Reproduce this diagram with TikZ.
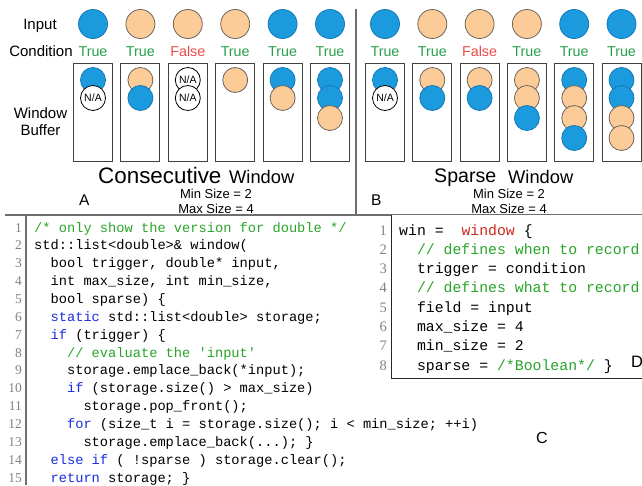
\documentclass[tikz,border=0pt]{standalone}
\usepackage{fontspec}
\setmainfont{Liberation Sans}
\setmonofont{Liberation Mono}
\newfontfamily\numfont{Liberation Serif}
\definecolor{cblue}{RGB}{27,155,222}
\definecolor{cbluedk}{RGB}{20,120,180}
\definecolor{cpeach}{RGB}{252,204,152}
\definecolor{cpeachdk}{RGB}{110,100,90}
\definecolor{ctrue}{RGB}{40,160,75}
\definecolor{cfalse}{RGB}{240,70,70}
\definecolor{ccom}{RGB}{40,165,40}
\definecolor{ckw}{RGB}{25,45,225}
\definecolor{cred}{RGB}{205,40,30}
\definecolor{cnum}{RGB}{130,130,130}
\definecolor{csep}{RGB}{110,110,110}
\newcommand\CMT[1]{\textcolor{ccom}{#1}}
\newcommand\KW[1]{\textcolor{ckw}{#1}}
\newcommand\RW[1]{\textcolor{cred}{#1}}
\newcommand\txtcb{}
\newcommand\txtcp{}
\newcommand\txtcn{N/A}
\tikzset{
  lbl/.style={font=\fontsize{15}{15}\selectfont, inner sep=0pt, anchor=base},
  cond/.style={font=\fontsize{14.3}{14.3}\selectfont, inner sep=0pt, anchor=base},
  incirc/.style={circle, minimum size=29pt, inner sep=0pt, line width=0.8pt},
  bufcirc/.style={circle, minimum size=25pt, inner sep=0pt, line width=0.8pt},
  cb/.style={fill=cblue, draw=cbluedk},
  cp/.style={fill=cpeach, draw=cpeachdk},
  cn/.style={fill=white, draw=black, font=\fontsize{10.5}{10.5}\selectfont},
  bufbox/.style={draw=black!75, line width=1pt, minimum width=39pt, minimum height=98pt, inner sep=0pt},
  small/.style={font=\fontsize{13}{13}\selectfont, inner sep=0pt, anchor=base},
  panel/.style={font=\fontsize{15.5}{15.5}\selectfont, inner sep=0pt, anchor=base west},
  codeL/.style={font=\ttfamily\fontsize{13.7}{13.7}\selectfont, inner sep=0pt, anchor=base west},
  codeD/.style={font=\ttfamily\fontsize{14.83}{14.83}\selectfont, inner sep=0pt, anchor=base west},
  numL/.style={font=\numfont\fontsize{13.5}{13.5}\selectfont, text=cnum, inner sep=0pt, anchor=base east},
  numD/.style={font=\numfont\fontsize{14.5}{14.5}\selectfont, text=cnum, inner sep=0pt, anchor=base east},
  sepline/.style={draw=csep, line width=1.4pt},
}
\begin{document}
\begin{tikzpicture}[x=1pt,y=-1pt]
\useasboundingbox (0,0) rectangle (642,485);
% row labels
\node[lbl] (tInput) at (40,29) {Input};
\node[lbl] (tCond) at (41,56) {Condition};
\node[lbl] (tWin) at (40.5,118) {Window};
\node[lbl] (tBuf) at (40.5,135) {Buffer};
% inputs and conditions
\foreach \t [count=\i] in {cb,cp,cp,cp,cb,cb} {
  \node[incirc,\t] (inA\i) at ({93+47.4*(\i-1)},24) {};
  \node[incirc,\t] (inB\i) at ({385+47.3*(\i-1)},24) {};
}
\foreach \c/\w [count=\i] in {ctrue/True,ctrue/True,cfalse/False,ctrue/True,ctrue/True,ctrue/True} {
  \node[cond,text=\c] (cdA\i) at ({93+47.4*(\i-1)},56) {\w};
  \node[cond,text=\c] (cdB\i) at ({385+47.3*(\i-1)},56) {\w};
}
% buffers A
\foreach \items [count=\i] in {{cb,cn},{cp,cb},{cn,cn},{cp},{cb,cp},{cb,cb,cp}} {
  \node[bufbox] (bxA\i) at ({93+47.4*(\i-1)},112) {};
  \foreach \t [count=\k] in \items {
    \node[bufcirc,\t] (cA\i-\k) at ({93+47.4*(\i-1)},{78+20*(\k-1)+2*(\k==1)}) {\csname txt\t\endcsname};
  }
}
% buffers B
\foreach \items [count=\i] in {{cb,cn},{cp,cb},{cp,cb},{cp,cp,cb},{cb,cp,cp,cb},{cb,cb,cp,cp}} {
  \node[bufbox] (bxB\i) at ({385+47.3*(\i-1)},112) {};
  \foreach \t [count=\k] in \items {
    \node[bufcirc,\t] (cB\i-\k) at ({385+47.3*(\i-1)},{78+20*(\k-1)+2*(\k==1)}) {\csname txt\t\endcsname};
  }
}
% titles
\node[inner sep=0pt, anchor=base west, font=\fontsize{22.4}{22.4}\selectfont] (tCons) at (98,183) {Consecutive};
\node[inner sep=0pt, anchor=base west, font=\fontsize{18.3}{18.3}\selectfont] (tConsW) at (229,183) {Window};
\node[inner sep=0pt, anchor=base west, font=\fontsize{19.6}{19.6}\selectfont] (tSpar) at (434,182) {Sparse};
\node[inner sep=0pt, anchor=base west, font=\fontsize{18.3}{18.3}\selectfont] (tSparW) at (508,183) {Window};
\node[small] (minA) at (216,198) {Min Size = 2};
\node[small] (maxA) at (216,213) {Max Size = 4};
\node[small] (minB) at (509,198) {Min Size = 2};
\node[small] (maxB) at (509,213) {Max Size = 4};
\node[panel] (pA) at (79,205) {A};
\node[panel] (pB) at (371,205) {B};
\node[panel, font=\fontsize{16}{16}\selectfont] (pC) at (536,443) {C};
% separators
\coordinate (s1) at (5,215);
\coordinate (s2) at (642,215);
\coordinate (v1) at (356,9);
\coordinate (v2) at (356,215);
\coordinate (g1) at (26,215);
\coordinate (g2) at (26,485);
\draw[sepline] (s1) -- (s2);
\draw[sepline] (v1) -- (v2);
\draw[draw=csep, line width=1.2pt] (g1) -- (g2);
% left code
\foreach \k in {1,...,15} {
  \node[numL] (nL\k) at (22,{232+17.86*(\k-1)}) {\k};
}
\node[codeL] (L1) at (34,232) {\CMT{/* only show the version for double */}};
\node[codeL] (L2) at (34,249.86) {std::list<double>\& window(};
\node[codeL] (L3) at (50.44,267.72) {bool trigger, double* input,};
\node[codeL] (L4) at (50.44,285.58) {int max\_size, int min\_size,};
\node[codeL] (L5) at (50.44,303.44) {bool sparse) \{};
\node[codeL] (L6) at (50.44,321.3) {\KW{static} std::list<double> storage;};
\node[codeL] (L7) at (50.44,339.16) {\KW{if} (trigger) \{};
\node[codeL] (L8) at (66.88,357.02) {\CMT{// evaluate the 'input'}};
\node[codeL] (L9) at (66.88,374.88) {storage.emplace\_back(*input);};
\node[codeL] (L10) at (66.88,392.74) {\KW{if} (storage.size() > max\_size)};
\node[codeL] (L11) at (83.32,410.6) {storage.pop\_front();};
\node[codeL] (L12) at (66.88,428.46) {\KW{for} (size\_t i = storage.size(); i < min\_size; ++i)};
\node[codeL] (L13) at (83.32,446.32) {storage.emplace\_back(...); \}};
\node[codeL] (L14) at (50.44,464.18) {\KW{else if} ( !sparse ) storage.clear();};
\node[codeL] (L15) at (50.44,482.04) {\KW{return} storage; \}};
% D box
\coordinate (d1) at (391,215);
\coordinate (d2) at (391,378);
\coordinate (d3) at (642,378);
\fill[white] (d1) rectangle (d3);
\draw[draw=black!85, line width=1pt] (d1) -- (d2) -- (d3);
\foreach \k in {1,...,8} {
  \node[numD] (nD\k) at (387,{235+19.3*(\k-1)}) {\k};
}
\node[codeD] (D1) at (399,235) {win = ~\RW{window} \{};
\node[codeD] (D2) at (416.8,254.3) {\CMT{// defines when to record}};
\node[codeD] (D3) at (416.8,273.6) {trigger = condition};
\node[codeD] (D4) at (416.8,292.9) {\CMT{// defines what to record}};
\node[codeD] (D5) at (416.8,312.2) {field = input};
\node[codeD] (D6) at (416.8,331.5) {max\_size = 4};
\node[codeD] (D7) at (416.8,350.8) {min\_size = 2};
\node[codeD] (D8) at (416.8,370.1) {sparse = \CMT{/*Boolean*/} \}};
\node[panel, font=\fontsize{16.5}{16.5}\selectfont] (pD) at (631,367) {D};
\end{tikzpicture}
\end{document}
